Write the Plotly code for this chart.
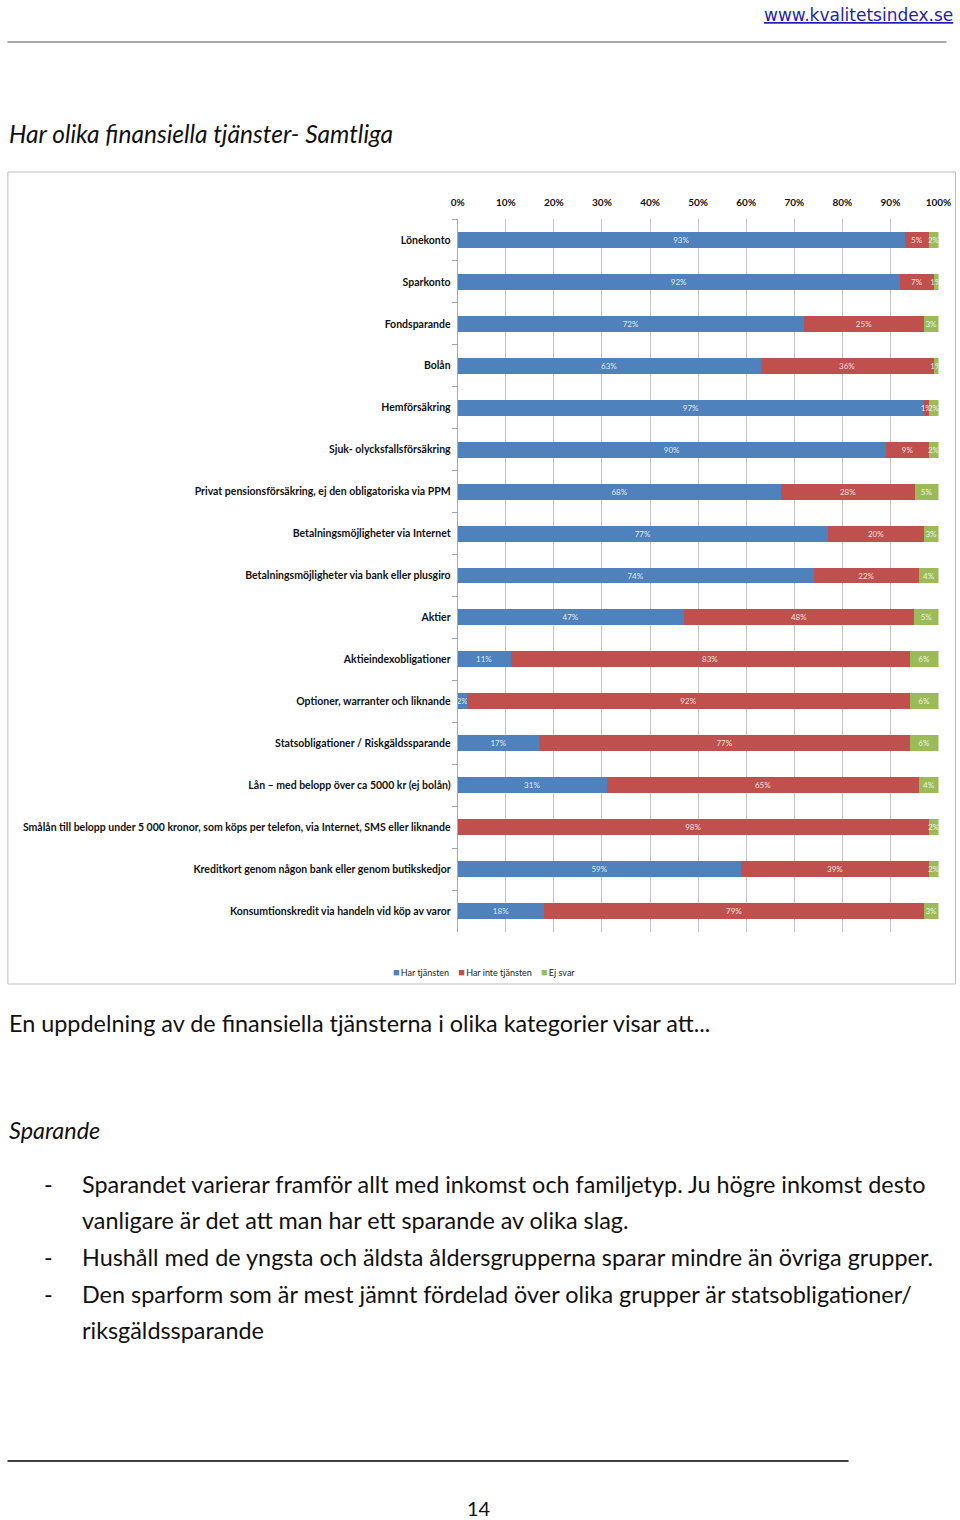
import plotly.graph_objects as go

W, H = 980, 1520

categories = [
    "Lönekonto",
    "Sparkonto",
    "Fondsparande",
    "Bolån",
    "Hemförsäkring",
    "Sjuk- olycksfallsförsäkring",
    "Privat pensionsförsäkring, ej den obligatoriska via PPM",
    "Betalningsmöjligheter via Internet",
    "Betalningsmöjligheter via bank eller plusgiro",
    "Aktier",
    "Aktieindexobligationer",
    "Optioner, warranter och liknande",
    "Statsobligationer / Riskgäldssparande",
    "Lån – med belopp över ca 5000 kr (ej bolån)",
    "Smålån till belopp under 5 000 kronor, som köps per telefon, via Internet, SMS eller liknande",
    "Kreditkort genom någon bank eller genom butikskedjor",
    "Konsumtionskredit via handeln vid köp av varor",
]
har_tjansten = [93, 92, 72, 63, 97, 90, 68, 77, 74, 47, 11, 2, 17, 31, 0, 59, 18]
har_inte_tjansten = [5, 7, 25, 36, 1, 9, 28, 20, 22, 48, 83, 92, 77, 65, 98, 39, 79]
ej_svar = [2, 1, 3, 1, 2, 2, 5, 3, 4, 5, 6, 6, 6, 4, 2, 2, 3]

series_names = ["Har tjänsten", "Har inte tjänsten", "Ej svar"]
series_colors = ["#4F81BD", "#C0504D", "#9BBB59"]
tick_vals = [0, 10, 20, 30, 40, 50, 60, 70, 80, 90, 100]
tick_text = [f"{v}%" for v in tick_vals]

FONT = "Lato"

# observed mapping of page x to picture x: pic = 6.1 + 0.98 * page
OFF, SC = 6.1, 0.98


def py(y):
    return 1 - y / H


def px(x):
    return max((x - OFF) / SC, 0.5) / W


fig = go.Figure()
for name, vals, col in zip(series_names, [har_tjansten, har_inte_tjansten, ej_svar], series_colors):
    fig.add_trace(go.Bar(
        y=categories, x=vals, name=name, orientation="h",
        marker=dict(color=col, line=dict(width=0)),
        text=[f"{v}%" if v > 0 else "" for v in vals],
        textposition="inside", insidetextanchor="middle", textangle=0,
        textfont=dict(family=FONT, size=8, color="rgba(255,255,255,0.85)"),
        hoverinfo="skip", showlegend=False,
    ))

fig.update_layout(
    width=W, height=H,
    margin=dict(l=0, r=0, t=0, b=0),
    paper_bgcolor="white", plot_bgcolor="white",
    barmode="stack", barnorm="percent", bargap=0.62,
    uniformtext=dict(minsize=8, mode="show"),
    showlegend=False,
    xaxis=dict(domain=[px(457), px(938)], range=[0, 100], side="top",
               tickvals=tick_vals, ticktext=tick_text, ticks="", ticklabelstandoff=10,
               showgrid=True, gridcolor="#C4C4C4", gridwidth=1, zeroline=False,
               showline=False, fixedrange=True,
               tickfont=dict(family=FONT, size=10, color="#111", weight="bold")),
    yaxis=dict(domain=[py(932), py(219)], autorange="reversed", type="category",
               showline=True, linecolor="#A8A8A8", linewidth=1,
               ticks="outside", ticklen=5, tickcolor="#A8A8A8", tickson="boundaries",
               showgrid=False, ticklabelstandoff=4,
               tickfont=dict(family=FONT, size=10.5, color="#111", weight="bold")),
    font=dict(family=FONT),
)

# chart border
fig.add_shape(type="rect", xref="paper", yref="paper",
              x0=px(7), x1=px(955), y0=py(984), y1=py(172),
              line=dict(color="#BDBDBD", width=1), layer="below")
# header line
fig.add_shape(type="line", xref="paper", yref="paper",
              x0=px(5), x1=px(946), y0=py(42), y1=py(42),
              line=dict(color="#8C8C8C", width=1.5))
# footer line
fig.add_shape(type="line", xref="paper", yref="paper",
              x0=px(4), x1=px(848), y0=py(1461), y1=py(1461),
              line=dict(color="#000", width=1.5))


def txt(x, y, s, size=23.4, anchor="left", italic=False, color="#111", family=FONT):
    fig.add_annotation(xref="paper", yref="paper", x=px(x), y=py(y), text=s,
                       showarrow=False, xanchor=anchor, yanchor="middle",
                       font=dict(family=family, size=size, color=color,
                                 style="italic" if italic else "normal"))


# legend (manual, compact like the original)
legend_html = "&nbsp;&nbsp;&nbsp;&nbsp;".join(
    f"<span style='color:{c};font-size:11px'>■</span>&#8201;{n}"
    for n, c in zip(series_names, series_colors))
txt(483, 971, legend_html, size=9, anchor="center", color="#222")

txt(954, 15, "<u>www.kvalitetsindex.se</u>", size=17, anchor="right", color="#1F1FB4", family="DejaVu Sans")
txt(5, 133, "Har olika finansiella tjänster- Samtliga", size=24.5, italic=True)
txt(5, 1023, "En uppdelning av de finansiella tjänsterna i olika kategorier visar att...")
txt(5, 1130, "Sparande", italic=True)

bullets = [
    (1184, "-", "Sparandet varierar framför allt med inkomst och familjetyp. Ju högre inkomst desto"),
    (1220, "", "vanligare är det att man har ett sparande av olika slag."),
    (1257, "-", "Hushåll med de yngsta och äldsta åldersgrupperna sparar mindre än övriga grupper."),
    (1294, "-", "Den sparform som är mest jämnt fördelad över olika grupper är statsobligationer/"),
    (1330, "", "riksgäldssparande"),
]
for y, dash, s in bullets:
    if dash:
        txt(41, y, dash)
    txt(79, y, s)

txt(478, 1508, "14", size=20, anchor="center")

fig.write_html("out.html", config={"displayModeBar": False, "responsive": False})

with open("out.html", encoding="utf-8") as f:
    html = f.read()
html = html.replace(
    "<head>",
    "<head><style>html,body{margin:0;padding:0;overflow:hidden;}</style>",
    1)
with open("out.html", "w", encoding="utf-8") as f:
    f.write(html)
